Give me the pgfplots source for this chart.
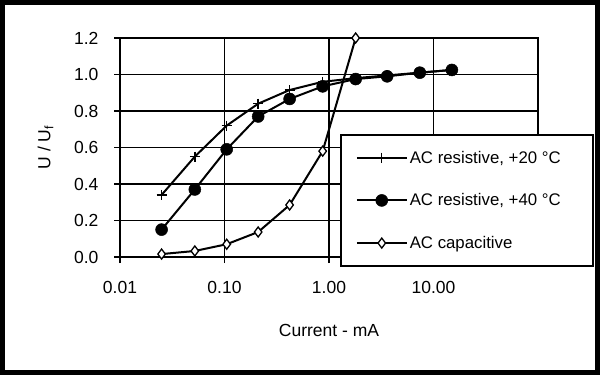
\documentclass[border=0pt]{standalone}
\usepackage{fontspec}
\setmainfont{Liberation Sans}
\usepackage{pgfplots}
\pgfplotsset{compat=1.18}
\begin{document}
\begin{tikzpicture}[x=1pt,y=1pt]
\useasboundingbox (0,0) rectangle (600,375);
\fill[white] (0,0) rectangle (600,375);
\begin{axis}[
  at={(120pt,118pt)}, anchor=south west,
  scale only axis, width=418pt, height=219pt,
  xmode=log, xmin=0.01, xmax=100, ymin=0, ymax=1.2,
  xtick={0.01,0.1,1,10,100}, xticklabels={0.01,0.10,1.00,10.00,{}},
  ytick={0,0.2,0.4,0.6,0.8,1.0,1.2},
  yticklabel style={xshift=-12pt, /pgf/number format/fixed, /pgf/number format/fixed zerofill, /pgf/number format/precision=1},
  /pgf/number format/assume math mode=true,
  xminorticks=false, yminorticks=false,
  grid=major, major grid style={black, line width=1.8pt},
  axis line style={black, line width=1.8pt},
  tick style={black, line width=1.8pt}, tick align=outside, major tick length=6pt,
  xtick pos=bottom, ytick pos=left,
  ticklabel style={font=\fontsize{17.5}{20}\selectfont},
  xticklabel style={yshift=-15pt},
  xlabel={Current - mA},
  ylabel={U / U\textsubscript{f}},
  label style={font=\fontsize{17.5}{20}\selectfont},
  xlabel style={at={(axis description cs:0.5,-0.335)}, anchor=center},
  ylabel style={at={(axis description cs:-0.178,0.5)}, anchor=center},
  clip=false,
  legend style={at={(axis description cs:0.526,0.5616)}, anchor=north west,
    draw=black, line width=1.8pt, fill=white,
    font=\fontsize{16.8}{19}\selectfont,
    inner xsep=15pt, inner ysep=14pt, row sep=25pt},
  legend cell align=left,
  legend image code/.code={\draw[mark repeat=2,mark phase=2,#1] plot coordinates {(0pt,0pt)(25pt,0pt)(50pt,0pt)};},
  every axis plot/.append style={black, line width=2pt},
]
\addplot[mark=+, mark size=5pt, mark options={line width=1.4pt}] coordinates {
  (0.025,0.34) (0.052,0.55) (0.105,0.72) (0.21,0.84) (0.42,0.915) (0.87,0.96)
  (1.8,0.98) (3.6,0.995) (7.4,1.01) (15,1.025)};
\addlegendentry{\makebox[166pt][l]{AC resistive, +20 °C}}
\addplot[mark=*, mark size=6pt, mark options={fill=black, line width=0.5pt}] coordinates {
  (0.025,0.15) (0.052,0.37) (0.105,0.59) (0.21,0.77) (0.42,0.866) (0.87,0.935)
  (1.8,0.975) (3.6,0.99) (7.4,1.01) (15,1.025)};
\addlegendentry{\makebox[166pt][l]{AC resistive, +40 °C}}
\addplot[mark=diamond*, mark size=5pt, mark options={fill=white, line width=1.3pt}] coordinates {
  (0.025,0.016) (0.052,0.033) (0.105,0.07) (0.21,0.137) (0.42,0.285) (0.87,0.58)
  (1.8,1.2)};
\addlegendentry{\makebox[166pt][l]{AC capacitive}}
\end{axis}
\draw[black, line width=5pt] (2.5,2.5) rectangle (597.5,372.5);
\end{tikzpicture}
\end{document}
